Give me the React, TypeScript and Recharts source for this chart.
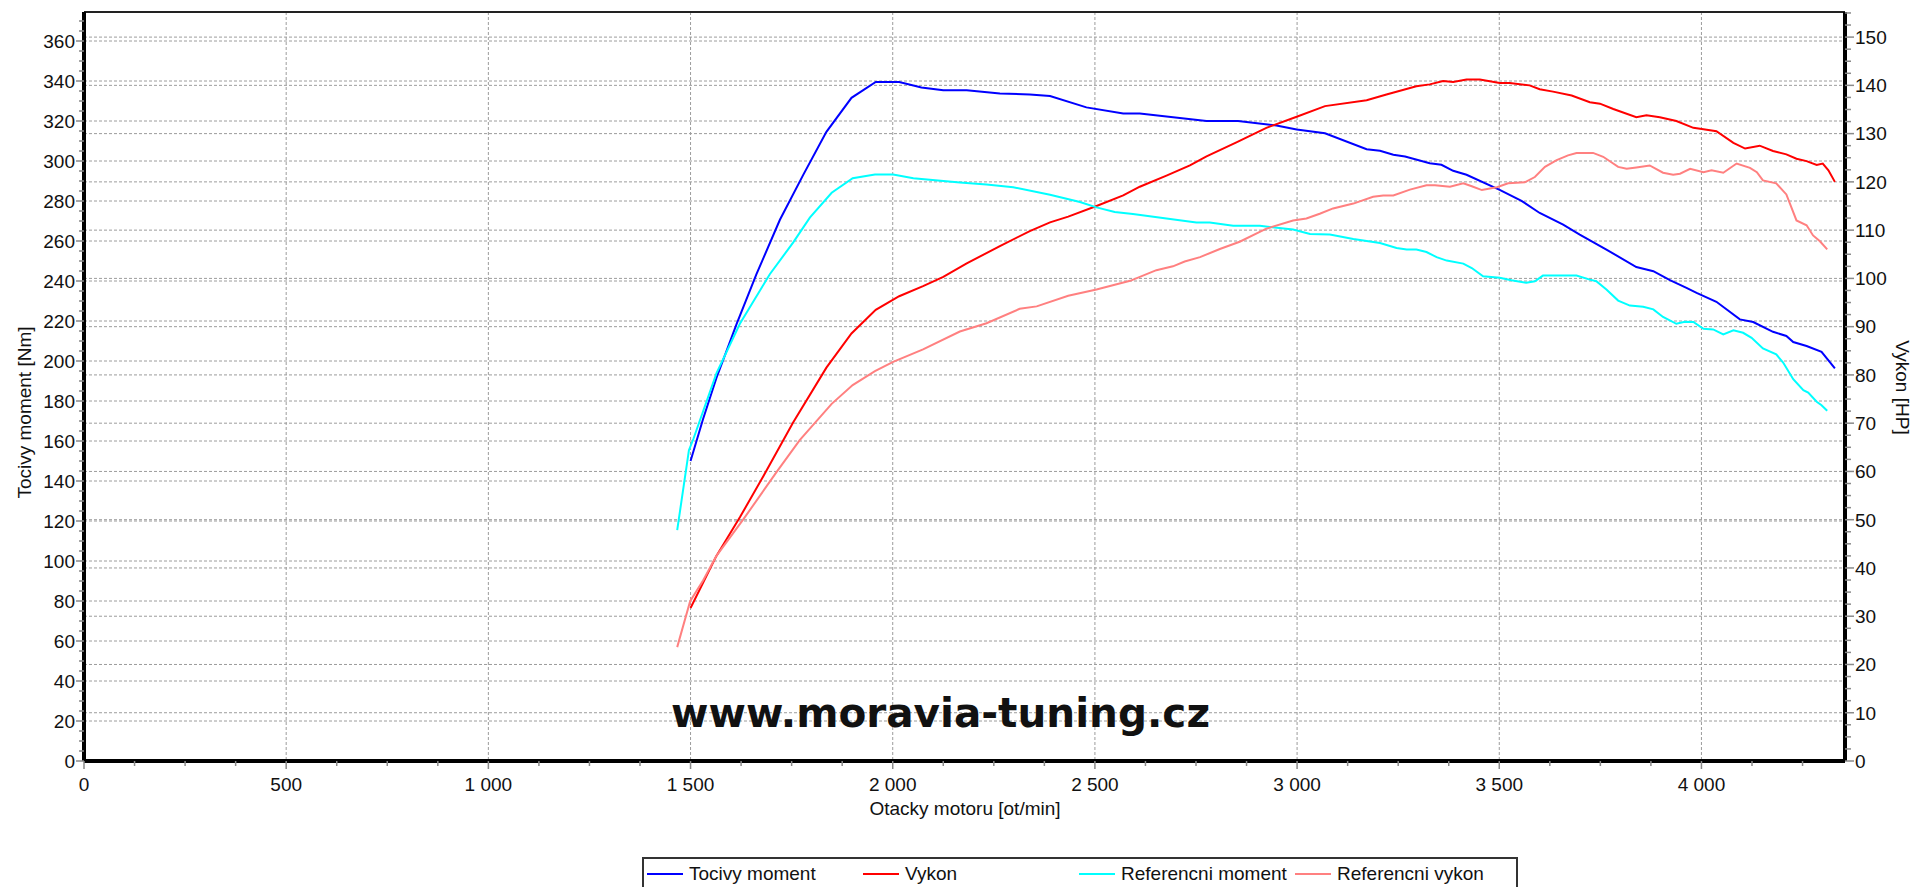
import React from 'react';
import { LineChart, Line, XAxis, YAxis, CartesianGrid, Legend, ReferenceLine, Label } from 'recharts';

// [rpm, value] pairs
const torque: [number, number][] = [
  [1500, 150], [1531, 171], [1564, 191.5], [1614, 218.6], [1663, 243.4], [1721, 270.6], [1779, 293.2],
  [1836, 314.6], [1898, 331.6], [1958, 339.5], [2016, 339.5], [2071, 336.8], [2125, 335.4], [2183, 335.4],
  [2265, 333.8], [2339, 333.3], [2389, 332.5], [2479, 326.8], [2570, 323.7], [2611, 323.7], [2776, 320],
  [2854, 320], [2949, 317.7], [2999, 315.7], [3069, 313.9], [3172, 305.9], [3205, 305.1], [3238, 303.1],
  [3267, 302.2], [3328, 298.9], [3357, 298.1], [3386, 295.1], [3419, 293.1], [3501, 285.6], [3555, 280.1],
  [3600, 274], [3658, 268.2], [3699, 263.2], [3765, 255.7], [3839, 247], [3881, 244.9], [3922, 240.4],
  [3963, 236.6], [3988, 234.1], [4037, 229.6], [4095, 220.8], [4128, 219.5], [4177, 214.6], [4210, 212.5],
  [4227, 209.5], [4260, 207.5], [4297, 204.6], [4330, 196.3],
];

const power: [number, number][] = [
  [1500, 31.7], [1564, 42.5], [1622, 50.5], [1680, 59], [1754, 70.2], [1836, 81.5], [1898, 88.6],
  [1958, 93.5], [2016, 96.3], [2075, 98.4], [2125, 100.3], [2183, 103.1], [2265, 106.7], [2339, 109.8],
  [2389, 111.6], [2434, 112.8], [2504, 115], [2570, 117.2], [2611, 119], [2677, 121.3], [2735, 123.4],
  [2776, 125.3], [2850, 128.2], [2924, 131.2], [2999, 133.5], [3069, 135.7], [3172, 136.9], [3221, 138.1],
  [3295, 139.8], [3328, 140.2], [3361, 140.9], [3386, 140.7], [3419, 141.2], [3452, 141.2], [3501, 140.5],
  [3526, 140.5], [3575, 140], [3600, 139.2], [3633, 138.7], [3679, 137.9], [3724, 136.5], [3749, 136.2],
  [3782, 135.1], [3839, 133.4], [3864, 133.8], [3897, 133.4], [3938, 132.6], [3980, 131.2], [4005, 130.9],
  [4037, 130.5], [4079, 128.1], [4108, 126.9], [4144, 127.5], [4177, 126.4], [4210, 125.7], [4235, 124.8],
  [4260, 124.3], [4285, 123.5], [4300, 123.8], [4314, 122.4], [4330, 120],
];

const refTorque: [number, number][] = [
  [1467, 115.4], [1496, 155.4], [1507, 161], [1564, 193.8], [1622, 218.6], [1696, 243.4], [1754, 259.3],
  [1795, 271.7], [1849, 284.1], [1901, 291.4], [1956, 293.2], [2001, 293.2], [2051, 291.4], [2166, 289.3],
  [2232, 288.2], [2298, 286.9], [2389, 283.1], [2463, 279.5], [2504, 276.8], [2549, 274.5], [2594, 273.5],
  [2677, 271.2], [2751, 269.3], [2784, 269.3], [2842, 267.6], [2908, 267.6], [2990, 265.7], [3032, 263.5],
  [3081, 263.2], [3139, 261], [3205, 259], [3246, 256.5], [3271, 255.7], [3295, 255.7], [3320, 254.5],
  [3345, 251.9], [3370, 250.2], [3411, 248.7], [3432, 246.5], [3460, 242.4], [3501, 241.6], [3530, 240.4],
  [3567, 239.1], [3588, 239.9], [3608, 242.7], [3691, 242.7], [3724, 240.7], [3740, 239.9], [3765, 235.7],
  [3794, 230.2], [3823, 227.7], [3856, 227.1], [3881, 225.8], [3905, 222], [3938, 218.6], [3959, 219.6],
  [3980, 219.5], [4005, 216.1], [4029, 215.8], [4054, 213.3], [4079, 215.3], [4103, 214.1], [4124, 211.6],
  [4152, 206.3], [4185, 203.3], [4202, 199.2], [4227, 190.9], [4252, 185.4], [4264, 184.2], [4285, 179.6],
  [4297, 177.9], [4311, 175.1],
];

const refPower: [number, number][] = [
  [1467, 23.6], [1499, 33.1], [1531, 37.4], [1564, 42.5], [1630, 50], [1713, 59.9], [1770, 66.5],
  [1849, 74], [1901, 77.9], [1956, 80.8], [2001, 82.7], [2075, 85.3], [2166, 89], [2232, 90.7],
  [2314, 93.7], [2356, 94.2], [2434, 96.4], [2504, 97.7], [2587, 99.5], [2652, 101.7], [2693, 102.5],
  [2722, 103.5], [2760, 104.4], [2809, 106.1], [2858, 107.6], [2924, 110.3], [2990, 112], [3023, 112.4],
  [3056, 113.4], [3089, 114.5], [3139, 115.5], [3188, 116.9], [3213, 117.2], [3238, 117.2], [3279, 118.4],
  [3320, 119.3], [3341, 119.3], [3378, 119], [3411, 119.7], [3432, 119.1], [3457, 118.3], [3494, 118.9],
  [3522, 119.7], [3563, 119.9], [3588, 121], [3613, 123.1], [3642, 124.5], [3670, 125.5], [3691, 126],
  [3732, 126], [3757, 125.2], [3794, 123.1], [3815, 122.7], [3839, 123], [3872, 123.4], [3905, 121.9],
  [3930, 121.5], [3947, 121.7], [3972, 122.7], [4005, 122], [4025, 122.4], [4054, 121.9], [4087, 123.8],
  [4120, 122.9], [4137, 122], [4152, 120.3], [4185, 119.7], [4210, 117.4], [4235, 112], [4260, 111],
  [4276, 108.9], [4293, 107.7], [4311, 106],
];

const seriesNames = ['Tocivy moment', 'Vykon', 'Referencni moment', 'Referencni vykon'];

const rpmMajor = [0, 500, 1000, 1500, 2000, 2500, 3000, 3500, 4000];
const nmMajor = [0, 20, 40, 60, 80, 100, 120, 140, 160, 180, 200, 220, 240, 260, 280, 300, 320, 340, 360];
const hpMajor = [0, 10, 20, 30, 40, 50, 60, 70, 80, 90, 100, 110, 120, 130, 140, 150];

const RPM_MAX = 4355;
const NM_MAX = 374.5;
const HP_MAX = 155.2;

// minor tick positions between the labelled ones
const steps = (step: number, max: number) => {
  const out: number[] = [];
  for (let v = 0; v <= max + 1e-6; v += step) out.push(Math.round(v * 10) / 10);
  return out;
};
const rpmTicks = steps(125, RPM_MAX);
const nmTicks = steps(5, NM_MAX);
const hpTicks = steps(2.5, HP_MAX);

const toPts = (arr: [number, number][], key: string) => arr.map(([rpm, v]) => ({ rpm, [key]: v }));

const FONT = '"Liberation Sans", Arial, sans-serif';
const TICK_COLOR = '#8a8a8a';
const GRID_COLOR = '#9c9c9c';

const fmtRpm = (v: number) => (v >= 1000 ? `${Math.floor(v / 1000)} ${String(v % 1000).padStart(3, '0')}` : String(v));

const LeftTick = (props: any) => {
  const { x, y, payload } = props;
  const major = nmMajor.includes(payload.value);
  return (
    <g>
      <line x1={x - (major ? 8 : 5)} x2={x} y1={y} y2={y} stroke={TICK_COLOR} strokeWidth={1.5} />
      {major && (
        <text x={x - 9} y={y} dy="0.36em" textAnchor="end" fontSize={19} fill="#111" fontFamily={FONT}>
          {payload.value}
        </text>
      )}
    </g>
  );
};

const RightTick = (props: any) => {
  const { x, y, payload } = props;
  const major = hpMajor.includes(payload.value);
  return (
    <g>
      <line x1={x} x2={x + (major ? 9 : 6)} y1={y} y2={y} stroke={TICK_COLOR} strokeWidth={1.5} />
      {major && (
        <text x={x + 10} y={y} dy="0.36em" textAnchor="start" fontSize={19} fill="#111" fontFamily={FONT}>
          {payload.value}
        </text>
      )}
    </g>
  );
};

const BottomTick = (props: any) => {
  const { x, y, payload } = props;
  const major = rpmMajor.includes(payload.value);
  return (
    <g>
      <line x1={x} x2={x} y1={y} y2={y + (major ? 8 : 5)} stroke={TICK_COLOR} strokeWidth={1.5} />
      {major && (
        <text x={x} y={y + 16} dy="0.72em" textAnchor="middle" fontSize={19} fill="#111" fontFamily={FONT}>
          {fmtRpm(payload.value)}
        </text>
      )}
    </g>
  );
};

const DynoLegend = (props: any) => {
  const items = [...(props.payload || [])].sort(
    (a: any, b: any) => seriesNames.indexOf(a.value) - seriesNames.indexOf(b.value)
  );
  return (
    <div style={{ height: 40, paddingTop: 10, boxSizing: 'border-box' }}>
      <div
        style={{
          height: 34,
          border: '2px solid #333',
          display: 'flex',
          paddingLeft: 3,
          boxSizing: 'border-box',
          fontFamily: FONT,
          fontSize: 19,
          color: '#111',
        }}
      >
        {items.map((it: any) => (
          <div key={it.value} style={{ width: 216, display: 'flex', alignItems: 'center', height: 30 }}>
            <span style={{ display: 'inline-block', width: 36, height: 2, background: it.color, marginRight: 6 }} />
            <span>{it.value}</span>
          </div>
        ))}
      </div>
    </div>
  );
};

export default function App() {
  return (
    <div style={{ position: 'fixed', left: 0, top: 0, width: 1919, height: 887, overflow: 'hidden', background: '#fff', fontFamily: FONT }}>
      <LineChart width={1919} height={887} margin={{ top: 12, right: 0, bottom: 0, left: 0 }}>
        <CartesianGrid xAxisId="rpm" yAxisId="nm" horizontalValues={nmMajor} verticalValues={rpmMajor} stroke={GRID_COLOR} strokeDasharray="3 2" />
        <CartesianGrid xAxisId="rpm" yAxisId="hp" horizontalValues={hpMajor} vertical={false} stroke={GRID_COLOR} strokeDasharray="3 2" />
        <XAxis
          xAxisId="rpm"
          type="number"
          dataKey="rpm"
          domain={[0, RPM_MAX]}
          allowDataOverflow
          ticks={rpmTicks}
          interval={0}
          height={86}
          tickSize={0}
          tickMargin={0}
          tick={<BottomTick />}
          axisLine={{ stroke: '#000', strokeWidth: 4 }}
        >
          <Label
            content={({ viewBox }: any) => (
              <text x={965} y={viewBox.y + 47} dy="0.35em" textAnchor="middle" fontSize={19} fill="#111" fontFamily={FONT}>
                Otacky motoru [ot/min]
              </text>
            )}
          />
        </XAxis>
        <YAxis
          yAxisId="nm"
          type="number"
          domain={[0, NM_MAX]}
          allowDataOverflow
          ticks={nmTicks}
          interval={0}
          width={84}
          tickSize={0}
          tickMargin={0}
          tick={<LeftTick />}
          axisLine={{ stroke: '#000', strokeWidth: 4 }}
        >
          <Label
            content={({ viewBox }: any) => {
              const cx = viewBox.x + 24;
              const cy = viewBox.y + viewBox.height / 2 + 26;
              return (
                <text x={cx} y={cy} transform={`rotate(-90 ${cx} ${cy})`} dy="0.35em" textAnchor="middle" fontSize={19} fill="#111" fontFamily={FONT}>
                  Tocivy moment [Nm]
                </text>
              );
            }}
          />
        </YAxis>
        <YAxis
          yAxisId="hp"
          orientation="right"
          type="number"
          domain={[0, HP_MAX]}
          allowDataOverflow
          ticks={hpTicks}
          interval={0}
          width={74}
          tickSize={0}
          tickMargin={0}
          tick={<RightTick />}
          axisLine={{ stroke: '#000', strokeWidth: 4 }}
        >
          <Label
            content={({ viewBox }: any) => {
              const cx = viewBox.x + 58;
              const cy = viewBox.y + viewBox.height / 2 + 1;
              return (
                <text x={cx} y={cy} transform={`rotate(90 ${cx} ${cy})`} dy="0.35em" textAnchor="middle" fontSize={19} fill="#111" fontFamily={FONT}>
                  Vykon [HP]
                </text>
              );
            }}
          />
        </YAxis>
        <ReferenceLine xAxisId="rpm" yAxisId="nm" y={NM_MAX} stroke="#222" strokeWidth={2} />
        <Line xAxisId="rpm" yAxisId="nm" data={toPts(torque, 'nm')} dataKey="nm" name={seriesNames[0]} stroke="#0000ff" strokeWidth={2} dot={false} isAnimationActive={false} />
        <Line xAxisId="rpm" yAxisId="hp" data={toPts(power, 'hp')} dataKey="hp" name={seriesNames[1]} stroke="#ff0000" strokeWidth={2} dot={false} isAnimationActive={false} />
        <Line xAxisId="rpm" yAxisId="nm" data={toPts(refTorque, 'nm')} dataKey="nm" name={seriesNames[2]} stroke="#00ffff" strokeWidth={2} dot={false} isAnimationActive={false} />
        <Line xAxisId="rpm" yAxisId="hp" data={toPts(refPower, 'hp')} dataKey="hp" name={seriesNames[3]} stroke="#ff8080" strokeWidth={2} dot={false} isAnimationActive={false} />
        <Legend verticalAlign="bottom" height={40} wrapperStyle={{ left: 642, width: 876, bottom: 0 }} content={<DynoLegend />} />
      </LineChart>
      <svg width={1919} height={887} style={{ position: 'absolute', left: 0, top: 0, pointerEvents: 'none' }}>
        <text x={671} y={727} fontSize={40} fontWeight={700} fontFamily='"DejaVu Sans", sans-serif' fill="#111" textLength={539} lengthAdjust="spacingAndGlyphs">
          www.moravia-tuning.cz
        </text>
      </svg>
    </div>
  );
}
